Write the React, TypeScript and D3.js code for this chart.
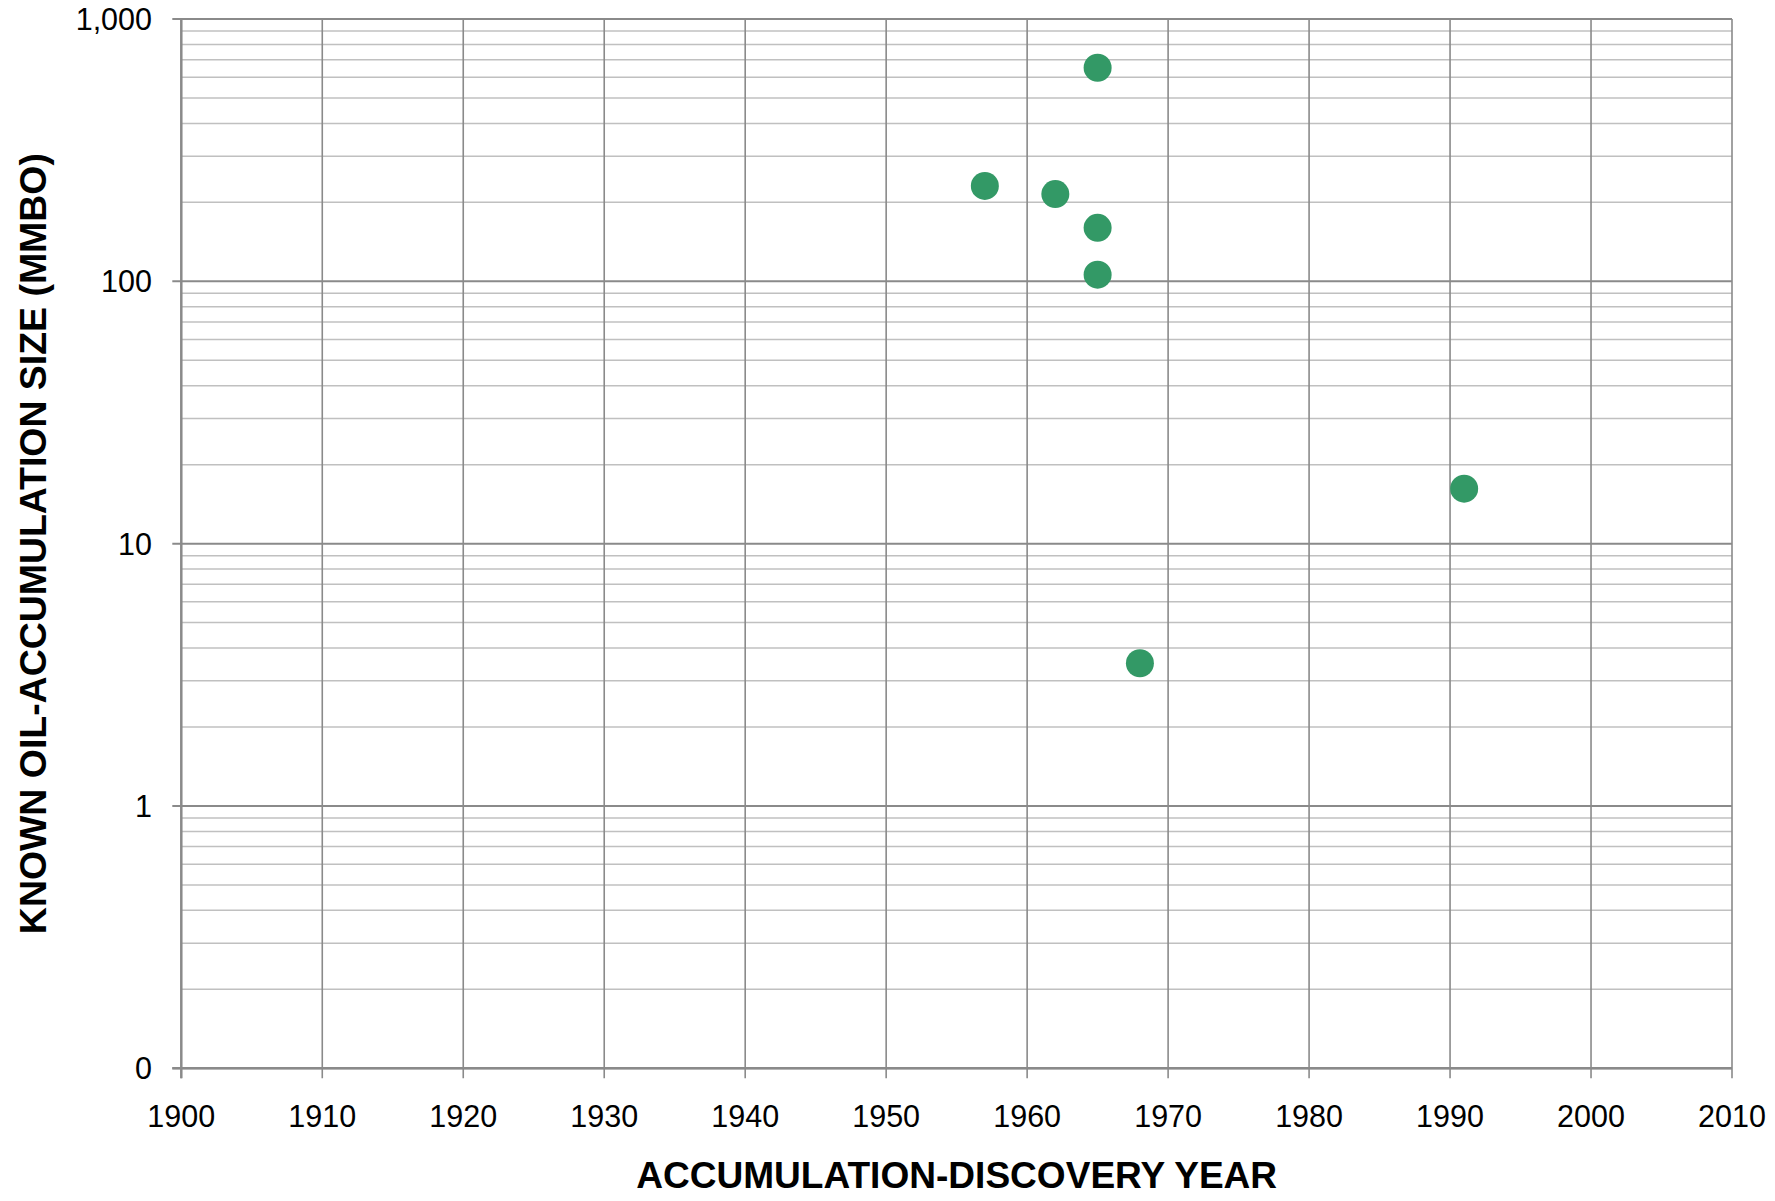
import React from "react";
import * as d3 from "d3";

const years: number[] = [1957, 1962, 1965, 1965, 1965, 1968, 1991];
const sizes: number[] = [231, 215, 652, 160, 106, 3.5, 16.2];
const xTicks: number[] = [1900, 1910, 1920, 1930, 1940, 1950, 1960, 1970, 1980, 1990, 2000, 2010];
const yMajor: number[] = [0.1, 1, 10, 100, 1000];
const yMajorLabels: string[] = ["0", "1", "10", "100", "1,000"];
const xTitle = "ACCUMULATION-DISCOVERY YEAR";
const yTitle = "KNOWN OIL-ACCUMULATION SIZE (MMBO)";

const W = 1775;
const H = 1201;
const left = 181.3;
const right = 1732;
const top = 19;
const bottom = 1068.3;

export default function App() {
  const x = d3.scaleLinear().domain([1900, 2010]).range([left, right]);
  const y = d3.scaleLog().domain([0.1, 1000]).range([bottom, top]);

  const minor: number[] = [];
  for (let k = 0; k < yMajor.length - 1; k++) {
    for (let m = 2; m <= 9; m++) minor.push(yMajor[k] * m);
  }
  const pts = years.map((yr, i) => ({ yr, v: sizes[i] }));

  const font = "'Liberation Sans', Arial, Helvetica, sans-serif";
  const dark = "#8a8a8a";
  const light = "#c0c0c0";

  return (
    <svg
      width={W}
      height={H}
      style={{ position: "absolute", left: 0, top: 0, background: "#fff" }}
      fontFamily={font}
    >
      <rect x={0} y={0} width={W} height={H} fill="#fff" />
      {minor.map((v) => (
        <line key={"mn" + v} x1={left} x2={right} y1={y(v)} y2={y(v)} stroke={light} strokeWidth={1.5} />
      ))}
      {xTicks.map((t) => (
        <line key={"vx" + t} x1={x(t)} x2={x(t)} y1={top} y2={bottom + 10} stroke={dark} strokeWidth={1.6} />
      ))}
      {yMajor.map((v) => (
        <line key={"mj" + v} x1={left - 9} x2={right} y1={y(v)} y2={y(v)} stroke={dark} strokeWidth={2} />
      ))}
      <line x1={left} x2={left} y1={top} y2={bottom + 10} stroke={dark} strokeWidth={2.4} />
      <line x1={left - 9} x2={right} y1={bottom} y2={bottom} stroke={dark} strokeWidth={2.4} />
      {pts.map((p, i) => (
        <circle key={"p" + i} cx={x(p.yr)} cy={y(p.v)} r={14} fill="#339966" />
      ))}
      {xTicks.map((t) => (
        <text key={"xl" + t} x={x(t)} y={1126.7} textAnchor="middle" fontSize={30.5} fill="#000">
          {String(t)}
        </text>
      ))}
      {yMajor.map((v, i) => (
        <text key={"yl" + v} x={152} y={y(v)} dy="0.36em" textAnchor="end" fontSize={30.5} fill="#000">
          {yMajorLabels[i]}
        </text>
      ))}
      <text
        x={(left + right) / 2}
        y={1187.7}
        textAnchor="middle"
        fontSize={36}
        fontWeight="bold"
        fill="#000"
        textLength={641}
        lengthAdjust="spacingAndGlyphs"
      >
        {xTitle}
      </text>
      <text
        transform={`translate(46,${(top + bottom) / 2}) rotate(-90)`}
        textAnchor="middle"
        fontSize={36}
        fontWeight="bold"
        fill="#000"
        textLength={781}
        lengthAdjust="spacingAndGlyphs"
      >
        {yTitle}
      </text>
    </svg>
  );
}
